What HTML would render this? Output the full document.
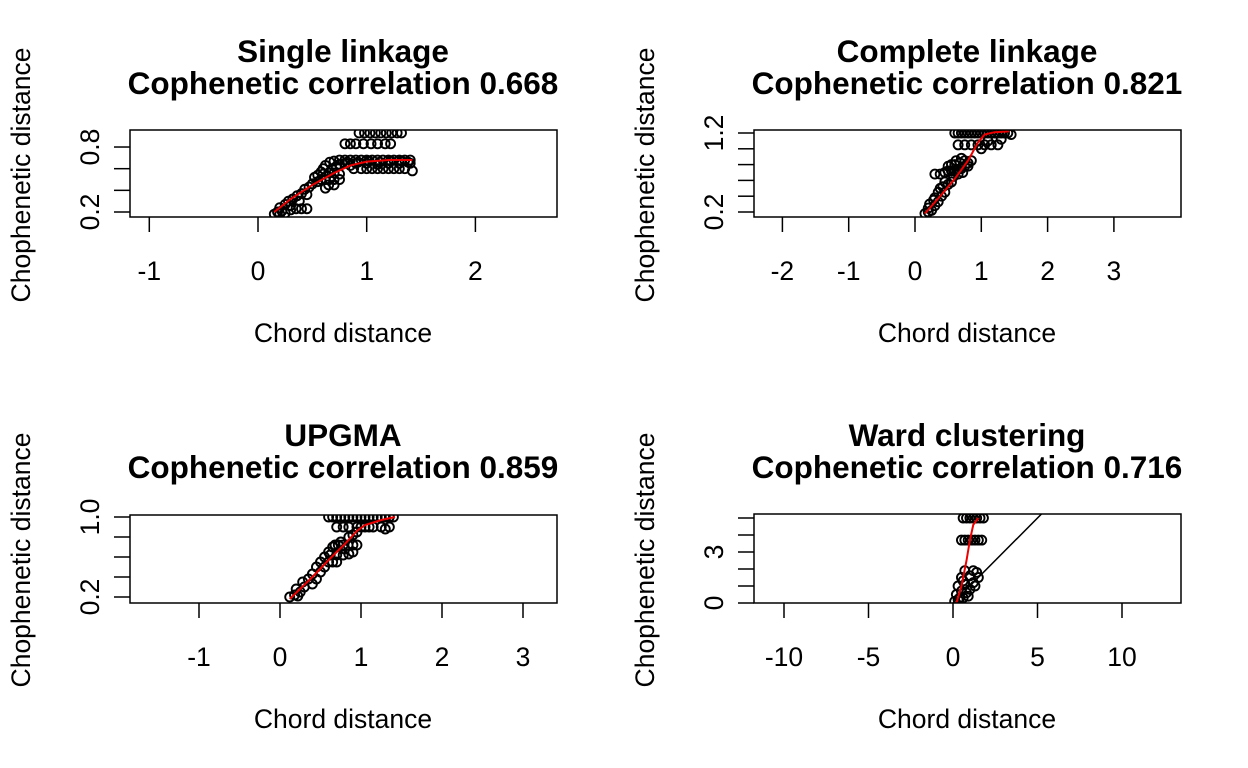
<!DOCTYPE html>
<html><head><meta charset="utf-8"><style>
html,body{margin:0;padding:0;background:#fff;overflow:hidden;width:1248px;height:768px}
svg{display:block}
svg text{font-family:"Liberation Sans",Arial,sans-serif;fill:#000}
</style></head><body>
<svg id="c" width="1248" height="768" viewBox="0 0 1248 768"></svg>
<script>
// Panel 1: Single linkage
const p1Points=[[0.15,0.18],[0.18,0.2],[0.2,0.18],[0.22,0.21],[0.25,0.19],[0.3,0.22],[0.35,0.23],[0.4,0.23],[0.45,0.23],[0.2,0.24],[0.25,0.27],[0.28,0.3],[0.32,0.32],[0.36,0.35],[0.4,0.37],[0.43,0.41],[0.47,0.43],[0.5,0.46],[0.55,0.48],[0.58,0.5],[0.62,0.5],[0.66,0.5],[0.7,0.5],[0.75,0.5],[0.55,0.54],[0.6,0.55],[0.65,0.56],[0.7,0.56],[0.75,0.55],[0.6,0.6],[0.62,0.63],[0.66,0.66],[0.7,0.67],[0.75,0.68],[0.8,0.68],[0.85,0.68],[0.9,0.68],[0.95,0.68],[1.0,0.68],[1.05,0.68],[1.1,0.68],[1.15,0.68],[1.2,0.68],[1.25,0.68],[1.3,0.68],[1.35,0.68],[1.4,0.68],[0.75,0.64],[0.8,0.65],[0.85,0.63],[0.9,0.65],[1.0,0.65],[1.1,0.64],[1.2,0.65],[1.3,0.65],[1.4,0.65],[0.88,0.6],[0.95,0.6],[1.0,0.6],[1.05,0.6],[1.1,0.6],[1.15,0.6],[1.2,0.6],[1.25,0.6],[1.3,0.6],[1.35,0.6],[1.42,0.58],[0.8,0.83],[0.85,0.83],[0.9,0.83],[0.97,0.83],[1.04,0.83],[1.1,0.83],[1.17,0.83],[1.22,0.83],[0.93,0.93],[0.98,0.93],[1.03,0.93],[1.08,0.93],[1.13,0.93],[1.18,0.93],[1.23,0.93],[1.28,0.93],[1.32,0.93],[0.65,0.45],[0.7,0.45],[0.62,0.42],[0.52,0.52],[0.58,0.57],[0.68,0.6],[0.72,0.62],[0.82,0.66],[0.92,0.66],[1.02,0.67],[1.12,0.66],[1.22,0.67],[1.32,0.67],[1.38,0.66],[0.3,0.26],[0.38,0.3],[0.45,0.36]];
const p1Curve=[[0.15,0.2],[0.3,0.32],[0.5,0.45],[0.7,0.56],[0.85,0.63],[1.0,0.665],[1.2,0.68],[1.42,0.68]];
// Panel 2: Complete linkage
const p2Points=[[0.15,0.18],[0.2,0.2],[0.25,0.22],[0.3,0.28],[0.22,0.3],[0.35,0.33],[0.3,0.38],[0.4,0.4],[0.45,0.45],[0.38,0.5],[0.42,0.52],[0.5,0.55],[0.45,0.58],[0.55,0.58],[0.3,0.68],[0.38,0.68],[0.45,0.7],[0.5,0.72],[0.55,0.72],[0.6,0.72],[0.65,0.74],[0.7,0.75],[0.75,0.78],[0.8,0.78],[0.5,0.78],[0.6,0.8],[0.68,0.82],[0.75,0.85],[0.85,0.85],[0.65,1.05],[0.75,1.05],[0.85,1.05],[0.95,1.05],[1.05,1.05],[1.15,1.05],[1.25,1.05],[0.6,1.2],[0.7,1.2],[0.8,1.2],[0.9,1.2],[1.0,1.2],[1.1,1.2],[1.2,1.2],[1.3,1.2],[1.4,1.2],[1.45,1.18],[1.0,1.0],[1.1,1.1],[1.3,1.12],[0.55,0.8],[0.62,0.85],[0.7,0.88],[0.8,0.82],[0.58,0.65],[0.65,0.68],[0.72,0.7],[0.35,0.45],[0.28,0.35],[0.2,0.25],[0.65,1.2],[0.75,1.2],[0.85,1.2],[0.95,1.2],[1.05,1.2],[1.15,1.2],[1.25,1.2],[1.35,1.2]];
const p2Curve=[[0.15,0.18],[0.4,0.42],[0.6,0.62],[0.8,0.85],[0.95,1.08],[1.05,1.18],[1.2,1.21],[1.42,1.22]];
// Panel 3: UPGMA
const p3Points=[[0.12,0.2],[0.18,0.22],[0.22,0.21],[0.25,0.25],[0.2,0.28],[0.3,0.3],[0.28,0.35],[0.4,0.33],[0.35,0.38],[0.45,0.38],[0.4,0.43],[0.5,0.45],[0.45,0.5],[0.55,0.5],[0.6,0.55],[0.65,0.55],[0.7,0.55],[0.5,0.55],[0.55,0.6],[0.62,0.62],[0.7,0.62],[0.78,0.62],[0.85,0.63],[0.9,0.65],[0.68,0.72],[0.72,0.72],[0.78,0.72],[0.84,0.72],[0.9,0.72],[0.95,0.72],[0.85,0.8],[0.9,0.82],[0.95,0.85],[0.7,0.9],[0.78,0.9],[0.85,0.9],[0.95,0.9],[1.05,0.9],[1.15,0.9],[1.25,0.9],[1.35,0.9],[0.6,1.0],[0.7,1.0],[0.8,1.0],[0.9,1.0],[1.0,1.0],[1.1,1.0],[1.2,1.0],[1.3,1.0],[1.4,1.0],[0.75,0.75],[0.8,0.68],[0.6,0.65],[0.65,0.7],[1.0,0.9],[1.1,0.9],[1.3,0.88],[0.65,1.0],[0.75,1.0],[0.85,1.0],[0.95,1.0],[1.05,1.0],[1.15,1.0],[1.25,1.0],[1.35,1.0]];
const p3Curve=[[0.12,0.18],[0.4,0.4],[0.6,0.57],[0.8,0.73],[0.95,0.86],[1.05,0.92],[1.25,0.97],[1.42,1.0]];
// Panel 4: Ward
const p4Points=[[0.1,0.1],[0.3,0.2],[0.6,0.3],[0.9,0.4],[0.2,0.5],[0.5,0.7],[1.0,0.8],[0.3,1.0],[0.7,1.1],[1.2,1.2],[0.5,1.5],[1.0,1.6],[1.5,1.5],[0.7,1.9],[1.2,1.9],[0.5,3.7],[0.9,3.7],[1.3,3.7],[1.7,3.7],[0.6,5.0],[1.0,5.0],[1.4,5.0],[1.8,5.0],[0.4,0.3],[0.8,0.6],[1.3,1.0],[0.6,1.3],[1.4,1.8],[0.7,3.7],[1.1,3.7],[1.5,3.7],[0.8,5.0],[1.2,5.0],[1.6,5.0]];
const p4Curve=[[0.2,0],[0.5,1.0],[0.8,2.5],[1.0,3.7],[1.2,4.6],[1.5,5.0]];

const svg=document.getElementById('c');
const NS='http://www.w3.org/2000/svg';
function mk(tag,attrs,parent){const e=document.createElementNS(NS,tag);for(const k in attrs)e.setAttribute(k,attrs[k]);(parent||svg).appendChild(e);return e;}

const panels=[
 {key:'single',t1:'Single linkage',t2:'Cophenetic correlation 0.668',box:[130,130,557,217],x0:258,xs:108.7,y0v:0.2,y0:212,ys:108.3,xt:[-1,0,1,2],yt:[0.2,0.4,0.6,0.8],yl:['0.2','0.8'],pts:p1Points,cur:p1Curve,tx:343,ty:52,ylab:175,xlab:343},
 {key:'complete',t1:'Complete linkage',t2:'Cophenetic correlation 0.821',box:[754,130,1181,217],x0:915,xs:66.3,y0v:0.2,y0:212,ys:79,xt:[-2,-1,0,1,2,3],yt:[0.2,0.4,0.6,0.8,1.0,1.2],yl:['0.2','1.2'],pts:p2Points,cur:p2Curve,tx:967,ty:52,ylab:175,xlab:967},
 {key:'upgma',t1:'UPGMA',t2:'Cophenetic correlation 0.859',box:[130,515,557,603],x0:280,xs:81,y0v:0.2,y0:597,ys:100,xt:[-1,0,1,2,3],yt:[0.2,0.4,0.6,0.8,1.0],yl:['0.2','1.0'],pts:p3Points,cur:p3Curve,tx:343,ty:436,ylab:560,xlab:343},
 {key:'ward',t1:'Ward clustering',t2:'Cophenetic correlation 0.716',box:[754,514,1181,603],x0:953,xs:16.9,y0v:0,y0:603,ys:17,xt:[-10,-5,0,5,10],yt:[0,1,2,3,4,5],yl:['0','3'],pts:p4Points,cur:p4Curve,tx:967,ty:436,ylab:560,xlab:967,abline:true}
];

panels.forEach(p=>{
 const g=mk('g',{});
 
 
 const X=v=>p.x0+(v)*p.xs, Y=v=>p.y0-(v-p.y0v)*p.ys;
 const [l,t,r,b]=p.box;
 const cid='clip-'+p.key;
 const cp=mk('clipPath',{id:cid},g);mk('rect',{x:l,y:t,width:r-l,height:b-t},cp);
 const t1=mk('text',{x:p.tx,y:p.ty+10,'text-anchor':'middle','font-size':31.5,'font-weight':'bold'},g);t1.textContent=p.t1;
 
 
 const t2=mk('text',{x:p.tx,y:p.ty+42,'text-anchor':'middle','font-size':31.5,'font-weight':'bold'},g);t2.textContent=p.t2;
 
 
 const pg=mk('g',{'clip-path':'url(#'+cid+')'},g);
 
 
 p.pts.forEach(q=>{
  const c=mk('circle',{cx:X(q[0]),cy:Y(q[1]),r:4.5,fill:'none',stroke:'#000','stroke-width':1.9},pg);
  
  
 });
 if(p.abline){
  const a=mk('line',{x1:X(-20),y1:Y(-20),x2:X(20),y2:Y(20),stroke:'#000','stroke-width':1.5,'clip-path':'url(#'+cid+')'},g);
  
  
 }
 const cl=mk('polyline',{points:p.cur.map(q=>X(q[0])+','+Y(q[1])).join(' '),fill:'none',stroke:'#e00','stroke-width':2,'clip-path':'url(#'+cid+')'},g);
 
 
 const bx=mk('rect',{x:l,y:t,width:r-l,height:b-t,fill:'none',stroke:'#000','stroke-width':1.5},g);
 
 
 p.xt.forEach(v=>{
  mk('line',{x1:X(v),x2:X(v),y1:b,y2:b+15,stroke:'#000','stroke-width':1.5},g);
  const tt=mk('text',{x:X(v),y:b+63,'text-anchor':'middle','font-size':26.5},g);tt.textContent=String(v);
  
  
 });
 p.yt.forEach(v=>{mk('line',{x1:l-16,x2:l,y1:Y(v),y2:Y(v),stroke:'#000','stroke-width':1.5},g);});
 p.yl.forEach(s=>{
  const v=parseFloat(s);
  const tt=mk('text',{x:0,y:0,'text-anchor':'middle','font-size':26.5,transform:'translate('+(l-31)+','+Y(v)+') rotate(-90)'},g);tt.textContent=s;
  
  
 });
 const xl=mk('text',{x:p.xlab,y:b+125,'text-anchor':'middle','font-size':26.5},g);xl.textContent='Chord distance';
 
 
 const yl=mk('text',{x:0,y:0,'text-anchor':'middle','font-size':26.5,transform:'translate('+(l-100)+','+p.ylab+') rotate(-90)'},g);yl.textContent='Chophenetic distance';
 
 
});
</script>
</body></html>
